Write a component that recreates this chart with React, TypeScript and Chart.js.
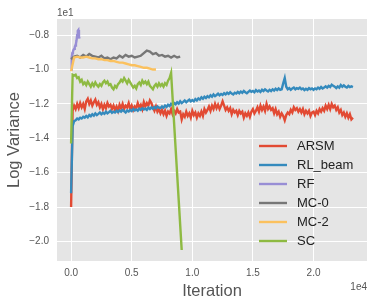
import React, { useEffect, useRef } from "react";
import { Chart, registerables } from "chart.js";

Chart.register(...registerables);

// ---------- data (true values: log variance, iterations) ----------
const FINE_STEP = 125; // logging interval for ARSM, RL_beam, SC
const COARSE_STEP = 250; // logging interval for MC-0, MC-2
const RF_STEP = 50; // logging interval for RF

const SERIES_NAMES = ["ARSM", "RL_beam", "RF", "MC-0", "MC-2", "SC"];
const SERIES_COLORS = ["#E24A33", "#348ABD", "#988ED5", "#777777", "#FBC15E", "#8EBA42"];

const ARSM = [
  -18.0, -12.4, -12.1, -12.3, -12.0, -12.25, -11.95, -12.2, -12.0, -12.3,
  -11.85, -11.7, -12.0, -11.8, -12.1, -11.9, -11.75, -12.05, -11.9, -12.2,
  -12.0, -12.3, -12.05, -12.25, -11.95, -12.15, -12.05, -12.3, -12.1, -12.35,
  -12.15, -12.4, -12.05, -12.25, -12.0, -12.3, -12.1, -12.2, -11.95, -12.3,
  -12.1, -12.35, -12.15, -12.25, -11.95, -12.2, -12.05, -12.3, -11.9, -12.15,
  -11.95, -12.1, -11.8, -11.95, -12.2, -12.4, -12.15, -12.45, -12.3, -12.55,
  -12.35, -12.6, -12.4, -12.7, -12.45, -12.55, -12.3, -12.6, -12.4, -12.55,
  -12.3, -12.5, -12.45, -12.9, -12.6, -12.75, -12.45, -12.7, -12.55, -12.8,
  -12.4, -12.65, -12.5, -12.8, -12.55, -12.7, -12.45, -12.7, -12.3, -12.5,
  -12.35, -12.15, -12.4, -12.1, -12.3, -12.0, -12.25, -12.05, -12.3, -12.1,
  -11.85, -12.1, -12.35, -12.2, -12.4, -12.25, -12.6, -12.35, -12.5, -12.4,
  -12.65, -12.4, -12.55, -12.45, -12.8, -12.55, -12.7, -12.5, -12.75, -12.45,
  -12.3, -12.55, -12.4, -12.2, -12.45, -12.1, -12.35, -12.15, -12.4, -12.0,
  -12.3, -12.15, -12.35, -12.25, -12.55, -12.3, -12.6, -12.45, -12.75, -12.55,
  -12.7, -12.95, -12.65, -12.5, -12.6, -12.35, -12.5, -12.2, -12.35, -12.25,
  -12.45, -12.3, -12.5, -12.3, -12.6, -12.4, -12.55, -12.4, -12.7, -12.5,
  -12.45, -12.65, -12.4, -12.55, -12.3, -12.45, -12.25, -12.4, -12.1, -12.3,
  -12.05, -12.3, -12.0, -12.2, -12.1, -12.35, -12.2, -12.5, -12.35, -12.65,
  -12.5, -12.75, -12.55, -12.8, -12.6, -12.9, -12.8,
];

const RL_BEAM = [
  -17.2, -13.3, -13.0, -12.95, -12.85, -12.9, -12.8, -12.85, -12.75, -12.8,
  -12.7, -12.78, -12.65, -12.72, -12.6, -12.68, -12.55, -12.65, -12.58, -12.5,
  -12.6, -12.52, -12.58, -12.45, -12.55, -12.48, -12.4, -12.52, -12.45, -12.5,
  -12.4, -12.48, -12.38, -12.45, -12.35, -12.42, -12.5, -12.38, -12.44, -12.35,
  -12.42, -12.3, -12.38, -12.32, -12.4, -12.28, -12.35, -12.25, -12.33, -12.27,
  -12.35, -12.22, -12.3, -12.2, -12.28, -12.18, -12.26, -12.15, -12.22, -12.25,
  -12.15, -12.22, -12.1, -12.18, -12.05, -12.12, -12.0, -12.08, -11.95, -12.02,
  -11.9, -11.98, -11.85, -11.95, -11.88, -11.8, -11.9, -11.82, -11.75, -11.85,
  -11.78, -11.85, -11.72, -11.8, -11.68, -11.75, -11.62, -11.7, -11.58, -11.66,
  -11.55, -11.62, -11.5, -11.58, -11.45, -11.55, -11.48, -11.4, -11.5, -11.42,
  -11.48, -11.38, -11.45, -11.35, -11.42, -11.32, -11.4, -11.45, -11.35, -11.4,
  -11.3, -11.38, -11.28, -11.35, -11.25, -11.32, -11.38, -11.3, -11.22, -11.3,
  -11.25, -11.32, -11.2, -11.28, -11.22, -11.3, -11.18, -11.25, -11.15, -11.22,
  -11.28, -11.18, -11.25, -11.15, -11.22, -11.12, -11.2, -11.1, -11.18, -11.15,
  -10.8, -10.5, -11.0, -11.15, -11.08, -11.18, -11.1, -11.05, -11.15, -11.08,
  -11.12, -11.05, -11.15, -11.1, -11.2, -11.12, -11.18, -11.08, -11.15, -11.1,
  -11.18, -11.1, -11.15, -11.05, -11.12, -11.02, -11.1, -11.05, -10.98, -11.05,
  -10.95, -11.02, -10.88, -10.95, -11.0, -11.08, -10.98, -11.05, -10.9, -11.0,
  -10.92, -11.0, -11.05, -10.95, -11.02, -10.98, -11.02,
];

const RF = [
  -10.0, -9.3, -9.05, -8.95, -8.85, -8.8, -8.7, -8.6, -8.5, -8.3,
  -8.0, -7.75, -7.7, -8.1, -8.2,
];

const MC0 = [
  -9.4, -9.25, -9.2, -9.3, -9.15, -9.25, -9.1, -9.2, -9.25, -9.3,
  -9.2, -9.35, -9.3, -9.4, -9.3, -9.35, -9.2, -9.3, -9.15, -9.25,
  -9.2, -9.3, -9.25, -9.2, -9.05, -8.9, -8.95, -9.1, -9.05, -9.2,
  -9.15, -9.25, -9.2, -9.3, -9.2, -9.3, -9.25,
];

const MC2 = [
  -10.1, -9.3, -9.25, -9.3, -9.3, -9.25, -9.3, -9.35, -9.35, -9.4,
  -9.4, -9.45, -9.45, -9.5, -9.5, -9.55, -9.6, -9.6, -9.65, -9.7,
  -9.75, -9.75, -9.8, -9.85, -9.9, -9.9, -9.95, -10.0, -10.0,
];

const SC = [
  -14.3, -10.3, -10.35, -10.3, -10.5, -10.45, -10.7, -10.6, -10.85, -10.75,
  -10.9, -10.7, -10.85, -11.0, -10.8, -10.95, -10.75, -10.9, -11.0, -10.85,
  -10.95, -10.75, -10.65, -10.8, -10.7, -10.9, -10.85, -11.05, -11.15, -10.95,
  -11.05, -10.85, -10.75, -10.6, -10.7, -10.5, -10.65, -10.8, -10.6, -10.75,
  -10.9, -11.05, -10.95, -11.1, -10.85, -10.75, -10.9, -10.65, -10.8, -10.7,
  -10.85, -10.7, -10.95, -11.05, -11.15, -10.95, -10.85, -11.0, -10.8, -10.95,
  -10.85, -11.0, -10.8, -10.9, -10.65, -10.5, -10.2,
];
const SC_LAST_ITERATION = 9125;
const SC_LAST_VALUE = -20.5;

const X_TICK_VALUES = [0, 5000, 10000, 15000, 20000];
const X_TICK_LABELS = ["0.0", "0.5", "1.0", "1.5", "2.0"];
const Y_TICK_VALUES = [-20, -18, -16, -14, -12, -10, -8];
const Y_TICK_LABELS = ["\u22122.0", "\u22121.8", "\u22121.6", "\u22121.4", "\u22121.2", "\u22121.0", "\u22120.8"];
const X_OFFSET_LABEL = "1e4";
const Y_OFFSET_LABEL = "1e1";
const X_TITLE = "Iteration";
const Y_TITLE = "Log Variance";

// ---------- helpers ----------
const FONT = '"Liberation Sans", Arial, Helvetica, sans-serif';
const LINE_WIDTH = 2.4;

function stepped(values: number[], step: number) {
  return values.map((v, i) => ({ x: i * step, y: v }));
}

const SERIES_POINTS = [
  stepped(ARSM, FINE_STEP),
  stepped(RL_BEAM, FINE_STEP),
  stepped(RF, RF_STEP),
  stepped(MC0, COARSE_STEP),
  stepped(MC2, COARSE_STEP),
  [...stepped(SC, FINE_STEP), { x: SC_LAST_ITERATION, y: SC_LAST_VALUE }],
];

const bgPlugin = {
  id: "ggplotBackground",
  beforeDraw(chart: any) {
    const { ctx, chartArea } = chart;
    ctx.save();
    ctx.fillStyle = "#ffffff";
    ctx.fillRect(0, 0, chart.width, chart.height);
    ctx.fillStyle = "#E5E5E5";
    ctx.fillRect(chartArea.left, chartArea.top, chartArea.right - chartArea.left, chartArea.bottom - chartArea.top);
    ctx.restore();
  },
};

const overlayPlugin = {
  id: "legendAndOffsets",
  afterDraw(chart: any) {
    const { ctx, chartArea } = chart;
    ctx.save();
    // offset texts
    ctx.font = `10px ${FONT}`;
    ctx.fillStyle = "#555555";
    ctx.textBaseline = "alphabetic";
    ctx.textAlign = "left";
    ctx.fillText(Y_OFFSET_LABEL, chartArea.left, chartArea.top - 3);
    ctx.textAlign = "right";
    ctx.fillText(X_OFFSET_LABEL, chartArea.right, chartArea.bottom + 29);

    // legend
    ctx.font = `13px ${FONT}`;
    ctx.textAlign = "left";
    ctx.textBaseline = "middle";
    const rowH = 19;
    const n = SERIES_NAMES.length;
    const lastY = chartArea.bottom - 20;
    const x0 = chartArea.right - 108;
    const x1 = chartArea.right - 80;
    const tx = chartArea.right - 70;
    SERIES_NAMES.forEach((name, i) => {
      const y = lastY - (n - 1 - i) * rowH;
      ctx.strokeStyle = SERIES_COLORS[i];
      ctx.lineWidth = LINE_WIDTH;
      ctx.beginPath();
      ctx.moveTo(x0, y);
      ctx.lineTo(x1, y);
      ctx.stroke();
      ctx.fillStyle = "#222222";
      ctx.fillText(name, tx, y + 0.5);
    });
    ctx.restore();
  },
};

export default function App() {
  const canvasRef = useRef<HTMLCanvasElement | null>(null);

  useEffect(() => {
    document.body.style.margin = "0";
    const canvas = canvasRef.current;
    if (!canvas) return;

    const chart = new Chart(canvas, {
      type: "line",
      data: {
        datasets: SERIES_NAMES.map((name, i) => ({
          label: name,
          data: SERIES_POINTS[i],
          borderColor: SERIES_COLORS[i],
          backgroundColor: SERIES_COLORS[i],
          borderWidth: LINE_WIDTH,
          pointRadius: 0,
          pointHoverRadius: 0,
          tension: 0,
          fill: false,
          order: SERIES_NAMES.length - i,
        })),
      },
      options: {
        responsive: false,
        animation: false,
        devicePixelRatio: 1,
        events: [],
        layout: { padding: { top: 19, right: 8, left: 0, bottom: 0 } },
        plugins: {
          legend: { display: false },
          tooltip: { enabled: false },
          title: { display: false },
        },
        scales: {
          x: {
            type: "linear",
            min: -1162.5,
            max: 24412.5,
            afterBuildTicks: (scale: any) => {
              scale.ticks = X_TICK_VALUES.map((v) => ({ value: v }));
            },
            afterFit: (scale: any) => {
              scale.height = 45;
            },
            grid: { color: "#ffffff", lineWidth: 1, drawTicks: false },
            border: { display: false },
            ticks: {
              maxRotation: 0,
              autoSkip: false,
              padding: 6,
              color: "#555555",
              font: { family: FONT, size: 10 },
              callback: (_v: any, idx: number) => X_TICK_LABELS[idx],
            },
            title: {
              display: true,
              text: X_TITLE,
              color: "#555555",
              font: { family: FONT, size: 16.5 },
              padding: { top: 0, bottom: 5 },
            },
          },
          y: {
            type: "linear",
            min: -21.14,
            max: -7.06,
            afterBuildTicks: (scale: any) => {
              scale.ticks = Y_TICK_VALUES.map((v) => ({ value: v }));
            },
            afterFit: (scale: any) => {
              scale.width = 57;
            },
            grid: { color: "#ffffff", lineWidth: 1, drawTicks: false },
            border: { display: false },
            ticks: {
              autoSkip: false,
              padding: 8,
              color: "#555555",
              font: { family: FONT, size: 10 },
              callback: (_v: any, idx: number) => Y_TICK_LABELS[idx],
            },
            title: {
              display: true,
              text: Y_TITLE,
              color: "#555555",
              font: { family: FONT, size: 16.5 },
              padding: { top: 4.4, bottom: 0 },
            },
          },
        },
      },
      plugins: [bgPlugin, overlayPlugin],
    } as any);

    return () => chart.destroy();
  }, []);

  return (
    <div style={{ width: 375, height: 306 }}>
      <canvas ref={canvasRef} width={375} height={306} style={{ display: "block", width: 375, height: 306 }} />
    </div>
  );
}
